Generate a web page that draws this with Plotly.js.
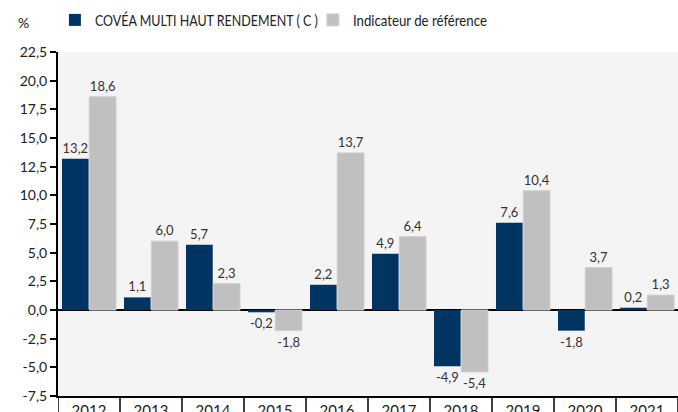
<!DOCTYPE html>
<html><head><meta charset="utf-8">
<script src="https://cdn.plot.ly/plotly-3.0.1.min.js"></script>
<style>body{margin:0;}#c{width:678px;height:412px;}</style>
</head><body><div id="c"></div>
<script>
const years = ['2012','2013','2014','2015','2016','2017','2018','2019','2020','2021'];
const fundValues = [13.2, 1.1, 5.7, -0.2, 2.2, 4.9, -4.9, 7.6, -1.8, 0.2];
const benchValues = [18.6, 6.0, 2.3, -1.8, 13.7, 6.4, -5.4, 10.4, 3.7, 1.3];
const fundName = 'COVÉA MULTI HAUT RENDEMENT ( C )';
const benchName = 'Indicateur de référence';
const yTicks = [-7.5,-5,-2.5,0,2.5,5,7.5,10,12.5,15,17.5,20,22.5];

const fmt = v => v.toFixed(1).replace('.', ',');
const font = 'Lato, Open Sans, sans-serif';

const traces = [
  {type:'bar', name:fundName, x:years, y:fundValues, marker:{color:'#003462'},
   text:fundValues.map(fmt), textposition:'outside', cliponaxis:false,
   textfont:{size:13,color:'#333',family:font}, hoverinfo:'none'},
  {type:'bar', name:benchName, x:years, y:benchValues, marker:{color:'#c0c0c0', line:{color:'#cfcfcf',width:1}},
   text:benchValues.map(fmt), textposition:'outside', cliponaxis:false,
   textfont:{size:13,color:'#333',family:font}, hoverinfo:'none'}
];

const shapes = [];
for (let i = 0; i <= years.length; i++) {
  shapes.push({type:'line', xref:'x', yref:'paper', x0:i-0.5, x1:i-0.5, y0:0, y1:-0.1,
    line:{color:'#000', width:1.5}});
}

const layout = {
  width:678, height:412,
  margin:{l:58, r:0, t:52, b:16, autoexpand:false},
  paper_bgcolor:'#fff', plot_bgcolor:'#f4f4f4',
  font:{family:font, color:'#222'},
  barmode:'group', bargap:0.12, bargroupgap:0.02,
  showlegend:true,
  legend:{orientation:'h', x:-0.005, xanchor:'left', y:1.093, yanchor:'middle',
    font:{size:16, color:'#222', family:font}, itemwidth:12, traceorder:'normal',
    entrywidth:213},
  xaxis:{type:'category', showgrid:false, ticks:'', showline:true, linecolor:'#000', linewidth:2,
    tickfont:{size:15, color:'#222'}, fixedrange:true, range:[-0.5, 9.5]},
  yaxis:{range:[-7.5,22.5], tickvals:yTicks, ticktext:yTicks.map(fmt), showgrid:false,
    zeroline:true, zerolinecolor:'#000', zerolinewidth:1.5,
    showline:true, linecolor:'#000', linewidth:2, ticks:'outside', ticklen:6, tickwidth:2, tickcolor:'#000',
    tickfont:{size:14, color:'#222'}},
  shapes:shapes,
  annotations:[{text:'%', xref:'paper', yref:'paper', x:-0.055, y:1.085, showarrow:false,
    font:{size:14, color:'#222'}, xanchor:'center', yanchor:'middle'}]
};
Plotly.newPlot('c', traces, layout, {displayModeBar:false, staticPlot:true}).then(gd => {
  const widths = [223, 134];
  gd.querySelectorAll('.legendtext').forEach((t, i) => {
    if (widths[i]) {
      t.setAttribute('textLength', widths[i]);
      t.setAttribute('lengthAdjust', 'spacingAndGlyphs');
    }
  });
});
</script></body></html>
